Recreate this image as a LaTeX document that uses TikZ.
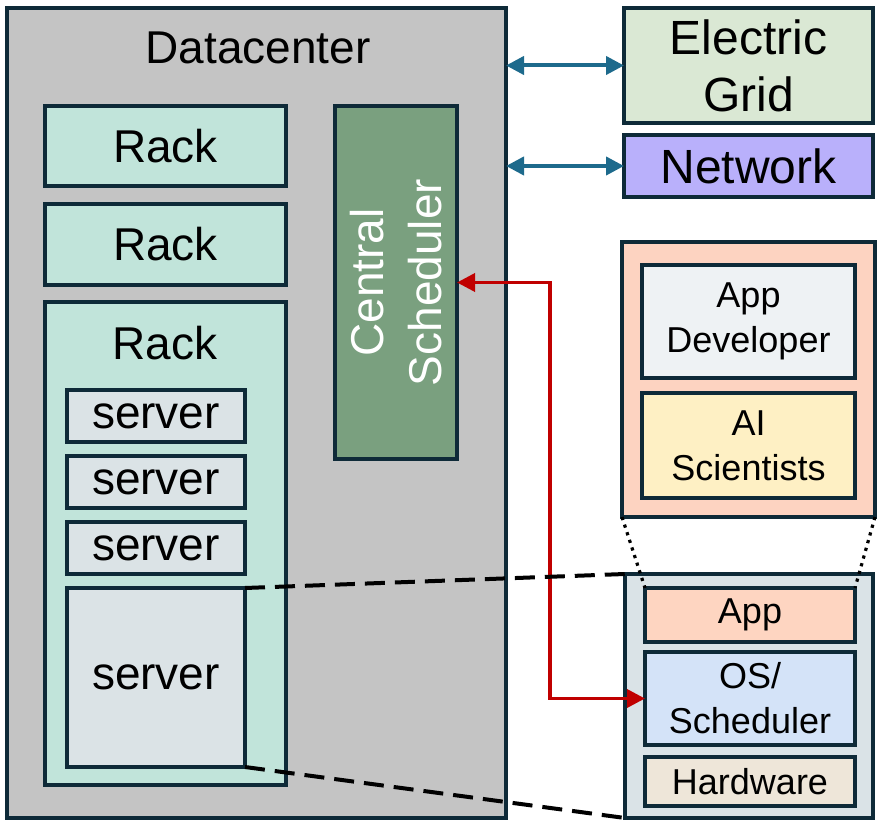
\documentclass[tikz,border=0pt]{standalone}
\usepackage{fontspec}
\setmainfont{Liberation Sans}
\usetikzlibrary{fit,arrows.meta}
\definecolor{bord}{HTML}{0E2A38}
\definecolor{dcfill}{HTML}{C4C4C4}
\definecolor{rackfill}{HTML}{C1E4DA}
\definecolor{srvfill}{HTML}{DBE3E6}
\definecolor{schedfill}{HTML}{7AA07F}
\definecolor{gridfill}{HTML}{DAE8D4}
\definecolor{netfill}{HTML}{B9B0FB}
\definecolor{peoplefill}{HTML}{FDD3C1}
\definecolor{devfill}{HTML}{EEF2F4}
\definecolor{aifill}{HTML}{FEF0C4}
\definecolor{detfill}{HTML}{DAE3E7}
\definecolor{appfill}{HTML}{FED5C1}
\definecolor{osfill}{HTML}{D4E3F8}
\definecolor{hwfill}{HTML}{EEE6D9}
\definecolor{bluearr}{HTML}{1D6A8C}
\definecolor{redarr}{HTML}{C00000}
\tikzset{
  box/.style={draw=bord, line width=2pt, inner sep=0pt, outer sep=0pt},
  txt/.style={inner sep=0pt, align=center},
  big/.style={txt, font=\fontsize{23}{29}\selectfont},
  mid/.style={txt, font=\fontsize{24}{28.5}\selectfont},
  small/.style={txt, font=\fontsize{18}{22.5}\selectfont},
  bluelink/.style={draw=bluearr, line width=2pt, {Triangle[length=9pt,width=9pt]}-{Triangle[length=9pt,width=9pt]}},
  redlink/.style={draw=redarr, line width=1.8pt, {Triangle[length=9pt,width=9pt]}-{Triangle[length=9pt,width=9pt]}},
  zoomdash/.style={draw=black, line width=2pt, dash pattern=on 10pt off 5pt},
  zoomdot/.style={draw=black, line width=1.6pt, dash pattern=on 1.6pt off 2.4pt}
}
\begin{document}
\begin{tikzpicture}[x=0.5pt,y=-0.5pt]
\useasboundingbox (0,0) rectangle (877,822);
% datacenter
\node[box, fill=dcfill, fit={(7,8)(506,818)}] (dc) {};
\node[big] (dclabel) at (258,48) {Datacenter};
% racks
\node[box, fill=rackfill, fit={(45,106)(286,186)}] (rack1) {};
\node[big] (rack1label) at (rack1.center) {Rack};
\node[box, fill=rackfill, fit={(45,204)(286,285)}] (rack2) {};
\node[big] (rack2label) at (rack2.center) {Rack};
\node[box, fill=rackfill, fit={(45,302)(286,785)}] (rack3) {};
\node[big] (rack3label) at (165,343) {Rack};
% servers
\node[box, fill=srvfill, fit={(67,390)(245,442)}] (srv1) {};
\node[big] (srv1label) at (srv1.center) {server};
\node[box, fill=srvfill, fit={(67,456)(245,508)}] (srv2) {};
\node[big] (srv2label) at (srv2.center) {server};
\node[box, fill=srvfill, fit={(67,522)(245,574)}] (srv3) {};
\node[big] (srv3label) at (srv3.center) {server};
\node[box, fill=srvfill, fit={(67,588)(245,767)}] (srv4) {};
\node[big] (srv4label) at (srv4.center) {server};
% central scheduler
\node[box, fill=schedfill, fit={(335,106)(457,459)}] (sched) {};
\node[big, text=white, rotate=90] (schedlabel) at (sched.center) {Central\\Scheduler};
% external
\node[box, fill=gridfill, fit={(624,8)(873,123)}] (grid) {};
\node[mid] (gridlabel) at (grid.center) {Electric\\Grid};
\node[box, fill=netfill, fit={(624,135)(873,197)}] (net) {};
\node[mid] (netlabel) at (net.center) {Network};
% people
\node[box, fill=peoplefill, fit={(622,242)(875,517)}] (people) {};
\node[box, fill=devfill, fit={(642,265)(855,378)}] (dev) {};
\node[small] (devlabel) at (dev.center) {App\\Developer};
\node[box, fill=aifill, fit={(642,393)(855,498)}] (ai) {};
\node[small] (ailabel) at (ai.center) {AI\\Scientists};
% server detail
\node[box, fill=detfill, fit={(625,574)(873,818)}] (detail) {};
\node[box, fill=appfill, fit={(645,588)(855,642)}] (app) {};
\node[small] (applabel) at (app.center) {App};
\node[box, fill=osfill, fit={(645,652)(855,745)}] (os) {};
\node[small] (oslabel) at (os.center) {OS/\\Scheduler};
\node[box, fill=hwfill, fit={(645,757)(855,806)}] (hw) {};
\node[small] (hwlabel) at (hw.center) {Hardware};
% connectors
\draw[bluelink] (grid.west -| dc.east) -- (grid.west);
\draw[bluelink] (net.west -| dc.east) -- (net.west);
\draw[redlink] (sched.east) -- ++(93,0) |- (os.west);
\draw[zoomdash] (srv4.north east) -- (detail.north west);
\draw[zoomdash] (srv4.south east) -- (detail.south west);
\draw[zoomdot] (people.south west) -- (app.north west);
\draw[zoomdot] (people.south east) -- (app.north east);
\end{tikzpicture}
\end{document}
